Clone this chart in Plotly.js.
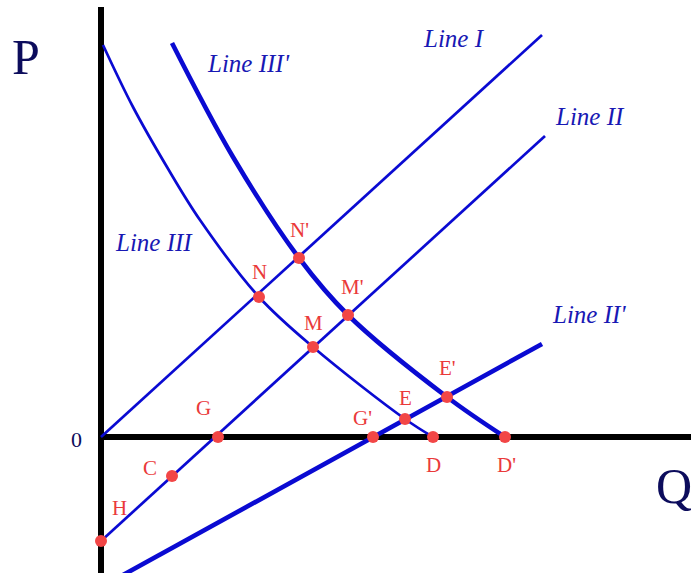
<!DOCTYPE html>
<html>
<head>
<meta charset="utf-8">
<script src="https://cdn.plot.ly/plotly-3.0.1.min.js"></script>
<style>
  body { margin: 0; background: #fff; }
  #chart { width: 691px; height: 573px; }
</style>
</head>
<body>
<div id="chart"></div>
<script>
// origin at the axes crossing, Q to the right, P up
let lineIx = [0, 441]
let lineIy = [0, 402]

let lineIIx = [0, 444]
let lineIIy = [-104, 301]

let lineIIpx = [22, 441]
let lineIIpy = [-138, 93]

let lineIIIx = [2, 32, 66, 99, 158, 212, 304, 332]
let lineIIIy = [392, 330, 270, 217, 140, 90, 18, 0]

let lineIIIpx = [71, 132, 198, 247, 346, 404]
let lineIIIpy = [394, 280, 179, 122, 40, 0]

let pointNames = ["N'", "N", "M'", "M", "E'", "E", "G", "G'", "D", "D'", "C", "H"]
let pointX = [198, 158, 247, 212, 346, 304, 117, 272, 332, 404, 71, 0]
let pointY = [179, 140, 122, 90, 40, 18, 0, 0, 0, 0, -39, -104]

// label offsets in pixels (dx, dy up)
let labelDx = [0, 0, 4, 0, 0, 0, -15, -11, 0, 1, -22, 18]
let labelDy = [28, 25, 28, 24, 29, 21, 29, 19, -28, -28, 8, 33]

var blue = '#0a0ad2'
var serif = 'Liberation Serif, Times New Roman, serif'

var traces = [
  // axes
  {x: [0, 0], y: [430, -140], mode: 'lines', line: {color: '#000', width: 6}},
  {x: [0, 600], y: [0, 0], mode: 'lines', line: {color: '#000', width: 6}},
  // lines
  {x: lineIx, y: lineIy, mode: 'lines', line: {color: blue, width: 2.7}},
  {x: lineIIx, y: lineIIy, mode: 'lines', line: {color: blue, width: 2.7}},
  {x: lineIIpx, y: lineIIpy, mode: 'lines', line: {color: blue, width: 4.6}},
  {x: lineIIIx, y: lineIIIy, mode: 'lines', line: {color: blue, width: 2.7, shape: 'spline', smoothing: 1}},
  {x: lineIIIpx, y: lineIIIpy, mode: 'lines', line: {color: blue, width: 4.6, shape: 'spline', smoothing: 1}},
  // points
  {x: pointX, y: pointY, mode: 'markers', marker: {color: '#f24646', size: 12}}
]

var annotations = pointNames.map((name, i) => ({
  x: pointX[i], y: pointY[i], text: name, showarrow: false,
  xshift: labelDx[i], yshift: labelDy[i],
  font: {family: serif, size: 21, color: '#ea3a3a'}
}))

var lineLabels = [
  ['Line I', 353, 399],
  ['Line II', 489, 321],
  ["Line III'", 147, 374],
  ['Line III', 53, 195],
  ["Line II'", 488, 123]
]
lineLabels.forEach(l => annotations.push({
  x: l[1], y: l[2], text: '<i>' + l[0] + '</i>', showarrow: false,
  font: {family: serif, size: 25, color: '#1818b4'}
}))

annotations.push({x: -75, y: 380, text: 'P', showarrow: false,
  font: {family: serif, size: 50, color: '#0c0c5c'}})
annotations.push({x: 573, y: -49, text: 'Q', showarrow: false,
  font: {family: serif, size: 50, color: '#0c0c5c'}})
annotations.push({x: -25, y: -2, text: '0', showarrow: false,
  font: {family: serif, size: 22, color: '#0c0c5c'}})

var layout = {
  width: 691,
  height: 573,
  margin: {l: 0, r: 0, t: 0, b: 0},
  showlegend: false,
  paper_bgcolor: '#fff',
  plot_bgcolor: '#fff',
  xaxis: {range: [-101, 590], visible: false, fixedrange: true},
  yaxis: {range: [-136, 437], visible: false, fixedrange: true},
  annotations: annotations
}

Plotly.newPlot('chart', traces, layout, {displayModeBar: false, staticPlot: true});
</script>
</body>
</html>
